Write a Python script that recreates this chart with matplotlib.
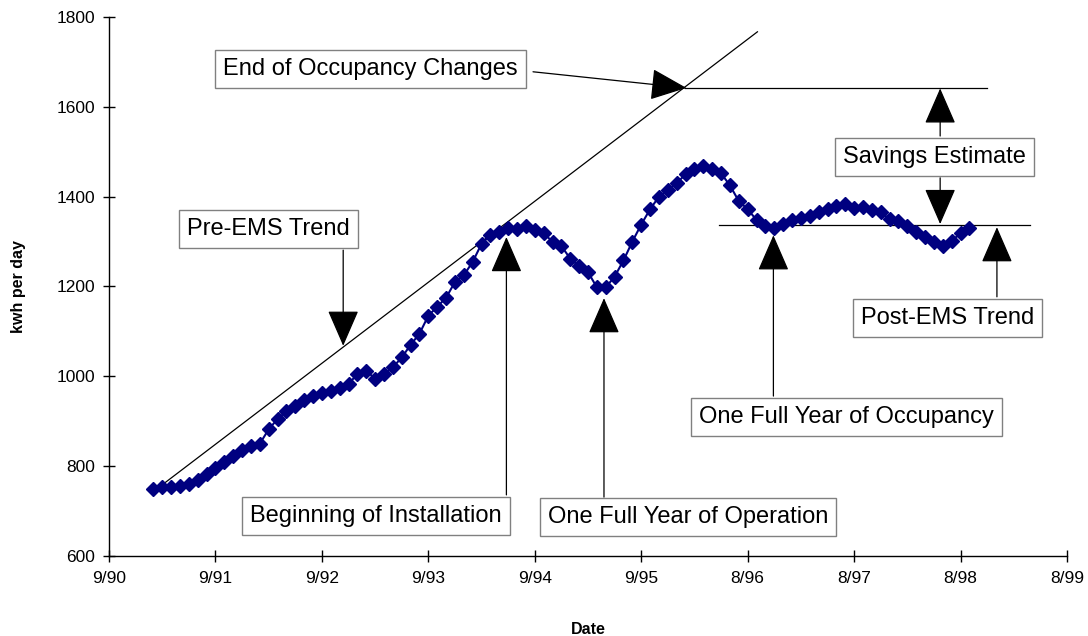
import matplotlib.pyplot as plt

plt.rcParams['font.family'] = ['Liberation Sans', 'DejaVu Sans']

# monthly kwh/day, month index counted from 9/90
start_month = 5
kwh = [750, 753, 753, 756, 760, 770, 783, 796, 810, 823,
       836, 845, 850, 882, 905, 922, 935, 947, 956, 962,
       967, 975, 983, 1005, 1012, 995, 1005, 1020, 1042, 1070,
       1095, 1135, 1155, 1175, 1210, 1225, 1255, 1295, 1315, 1322,
       1330, 1328, 1335, 1325, 1318, 1300, 1290, 1262, 1245, 1232,
       1198, 1198, 1222, 1258, 1300, 1338, 1372, 1400, 1415, 1430,
       1450, 1462, 1468, 1462, 1452, 1425, 1390, 1372, 1348, 1335,
       1330, 1340, 1347, 1352, 1357, 1365, 1372, 1380, 1383, 1375,
       1378, 1370, 1365, 1350, 1345, 1335, 1322, 1310, 1300, 1290,
       1302, 1318, 1330]
months = list(range(start_month, start_month + len(kwh)))

tick_pos = [0, 12, 24, 36, 48, 60, 72, 84, 96, 108]
tick_labels = ['9/90', '9/91', '9/92', '9/93', '9/94', '9/95',
               '8/96', '8/97', '8/98', '8/99']

# trend lines (month, kwh)
pre_trend_x = [6.3, 73.1]
pre_trend_y = [763, 1767]
occ_end_x = [64.9, 99.0]
occ_end_y = [1641, 1641]
post_trend_x = [68.8, 103.8]
post_trend_y = [1338, 1338]

# callouts: text, text position, arrows (from, to)
callouts = [
    ('End of Occupancy Changes', (29.5, 1684), [((47.8, 1678), (65.1, 1642))]),
    ('Pre-EMS Trend', (18.0, 1328), [((26.4, 1281), (26.4, 1068))]),
    ('Beginning of Installation', (30.1, 689), [((44.8, 736), (44.8, 1310))]),
    ('One Full Year of Operation', (65.3, 687), [((55.8, 731), (55.8, 1174))]),
    ('One Full Year of Occupancy', (83.1, 910), [((74.9, 956), (74.9, 1314))]),
    ('Savings Estimate', (93.1, 1488), [((93.7, 1535), (93.7, 1641)),
                                        ((93.7, 1442), (93.7, 1339))]),
    ('Post-EMS Trend', (94.5, 1130), [((100.1, 1177), (100.1, 1332))]),
]

fig = plt.figure(figsize=(10.88, 6.36), dpi=100)
ax = fig.add_axes([0.1002, 0.1258, 0.8805, 0.8475])

ax.plot(pre_trend_x, pre_trend_y, color='black', lw=0.9)
ax.plot(occ_end_x, occ_end_y, color='black', lw=0.9)
ax.plot(post_trend_x, post_trend_y, color='black', lw=0.9)

ax.plot(months, kwh, color='#000080', lw=1.5, marker='D', markersize=7.5,
        markeredgecolor='#000080', markerfacecolor='#000080', zorder=3)

for label, pos, arrows in callouts:
    ax.text(pos[0], pos[1], label, fontsize=17, ha='center', va='center',
            zorder=6, bbox=dict(boxstyle='square,pad=0.34', fc='white',
                                ec='#808080', lw=1))
    for a, b in arrows:
        ax.annotate('', xy=b, xytext=a, zorder=5,
                    arrowprops=dict(arrowstyle='-|>,head_length=23,head_width=10',
                                    mutation_scale=1, color='black', lw=0.9,
                                    shrinkA=0, shrinkB=0))

ax.set_xlim(0, 108)
ax.set_ylim(600, 1800)
ax.set_xticks(tick_pos)
ax.set_xticklabels(tick_labels)
ax.set_yticks(range(600, 1801, 200))
ax.tick_params(direction='inout', length=8, width=1, labelsize=12.5, pad=7)
ax.tick_params(axis='y', pad=6)

for s in ['top', 'right']:
    ax.spines[s].set_visible(False)
for s in ['left', 'bottom']:
    ax.spines[s].set_linewidth(1.0)

ax.set_xlabel('Date', fontsize=11.5, fontweight='bold', labelpad=26)
ax.set_ylabel('kwh per day', fontsize=11.5, fontweight='bold', labelpad=22)

fig.savefig('out.png', dpi=100)
